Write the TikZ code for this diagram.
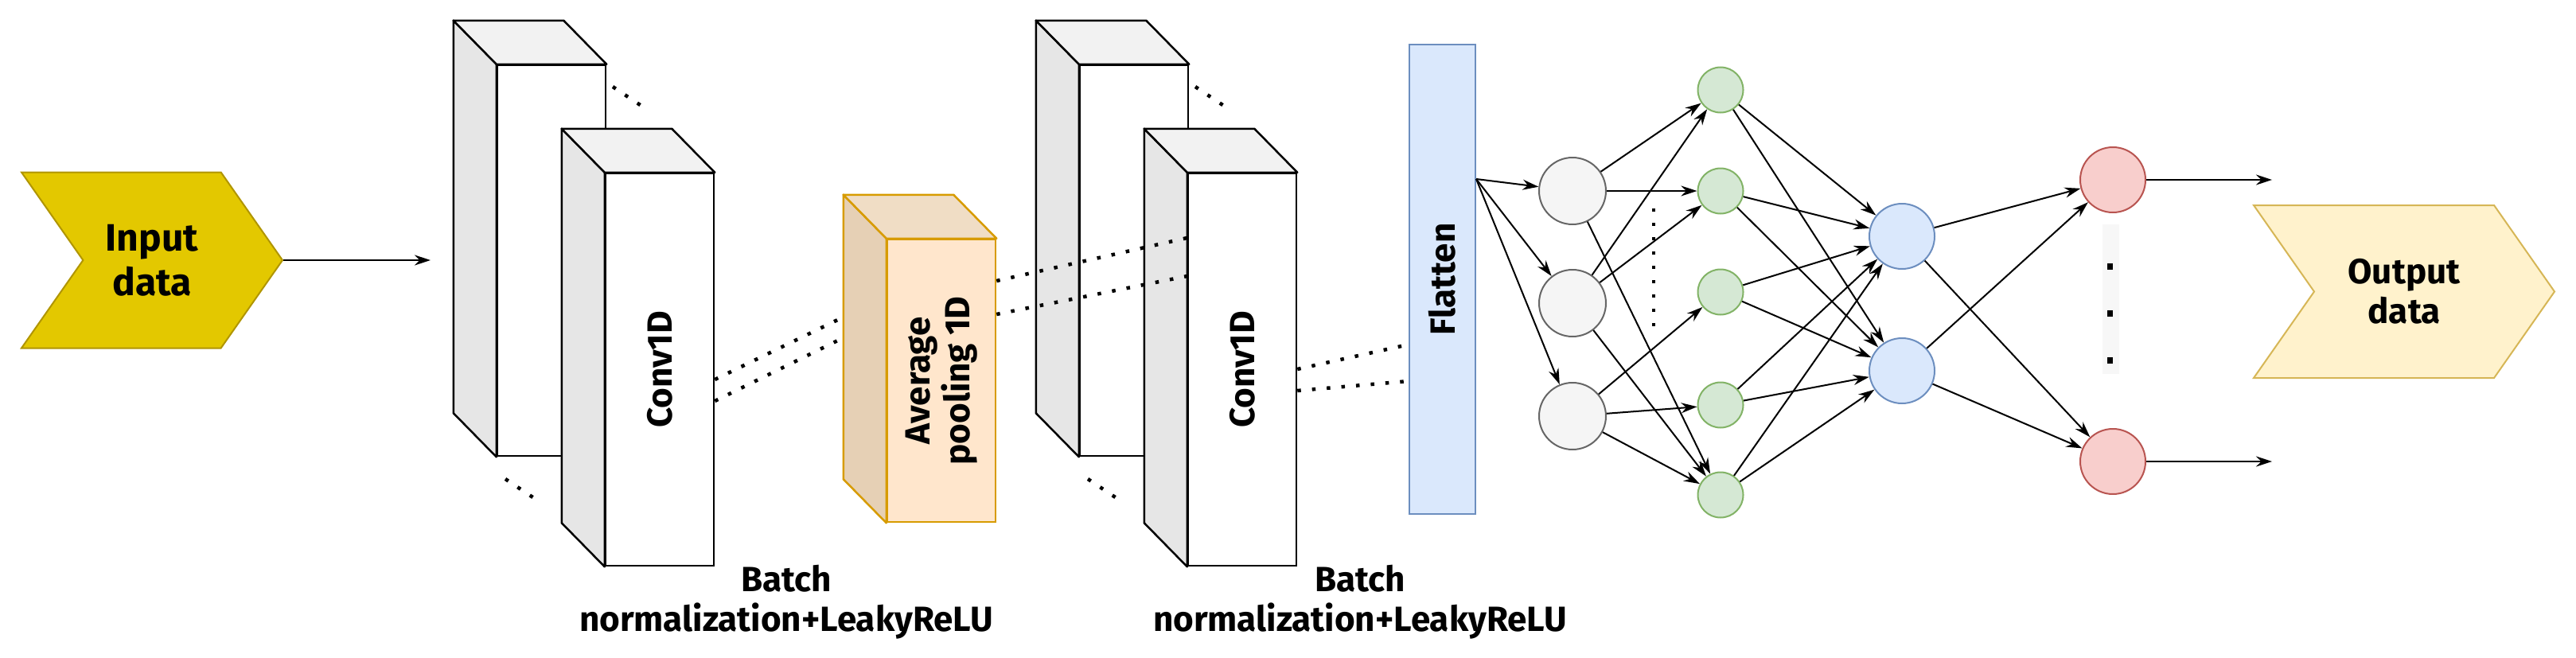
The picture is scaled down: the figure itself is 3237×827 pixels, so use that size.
\documentclass[tikz,border=0pt]{standalone}
\usepackage{fontspec}
\setmainfont{Fira Sans}
\usetikzlibrary{shapes.symbols,shapes.geometric,arrows.meta,calc}
\definecolor{inF}{HTML}{E3C800}\definecolor{inD}{HTML}{B09500}
\definecolor{outF}{HTML}{FFF2CC}\definecolor{outD}{HTML}{D6B656}
\definecolor{grF}{HTML}{F5F5F5}\definecolor{grD}{HTML}{666666}
\definecolor{gnF}{HTML}{D5E8D4}\definecolor{gnD}{HTML}{82B366}
\definecolor{blF}{HTML}{DAE8FC}\definecolor{blD}{HTML}{6C8EBF}
\definecolor{rdF}{HTML}{F8CECC}\definecolor{rdD}{HTML}{B85450}
\definecolor{avF}{HTML}{FFE6CC}\definecolor{avS}{HTML}{E6D0B5}\definecolor{avT}{HTML}{F0DDC5}\definecolor{avD}{HTML}{D79B00}
\definecolor{bkS}{HTML}{E6E6E6}\definecolor{bkT}{HTML}{F2F2F2}
\tikzset{
 face/.style={draw,line width=2.5pt,inner sep=0,rectangle},
 lbl/.style={font=\bfseries\fontsize{44}{50}\selectfont,align=center},
 neu/.style={circle,line width=2pt,inner sep=0},
 edge/.style={-{Stealth[length=20pt,width=13pt]},line width=2pt},
 dotl/.style={line width=4.5pt,dash pattern=on 4.5pt off 14pt},
 chev/.style={signal,signal to=east,signal from=west,signal pointer angle=110,line width=2pt,inner sep=0},
}
% \blk{name}{cx}{cy}{w}{h}{front}{side}{top}{stroke}
\newcommand\blk[9]{%
 \node[face,draw=#9,fill=#6,minimum width=#4,minimum height=#5] (#1) at (#2,#3) {};
 \draw[line width=2.5pt,draw=#9,fill=#7,line join=round] (#1.north west) -- ++(-54,-55) -- ($(#1.south west)+(-54,-55)$) -- (#1.south west) -- cycle;
 \draw[line width=2.5pt,draw=#9,fill=#8,line join=round] (#1.north west) -- ++(-54,-55) -- ($(#1.north east)+(-54,-55)$) -- (#1.north east) -- cycle;
}
\begin{document}
\begin{tikzpicture}[x=1pt,y=-1pt]
\useasboundingbox (0,0) rectangle (3237,827);
% input
\node[chev,fill=inF,draw=inD,minimum width=328,minimum height=221,lbl,font=\bfseries\fontsize{48}{56}\selectfont] (in) at (191,327) {Input\\data};
% conv blocks 1
\blk{c1a}{693}{327.5}{136}{491}{white}{bkS}{bkT}{black}
\blk{c1b}{829}{464.5}{136}{493}{white}{bkS}{bkT}{black}
\node[lbl,rotate=90] (t1) at (c1b.center) {Conv1D};
\draw[edge] (in.east) -- (541,327);
\draw[dotl] (770,109) -- (812,137);
\draw[dotl] (635,602) -- (677,630);
% avg
\blk{av}{1183}{478.5}{136}{355}{avF}{avS}{avT}{avD}
\node[lbl,rotate=90] at (av.center) {Average\\pooling 1D};
\coordinate (a1) at ($(av.west)+(-54,-80)$);
\coordinate (a2) at ($(av.west)+(-54,-54)$);
\draw[dotl] (c1b.east |- 0,477) -- (a1);
\draw[dotl] (c1b.east |- 0,504) -- (a2);
% conv blocks 2
\blk{c2a}{1425}{327.5}{136}{491}{white}{bkS}{bkT}{black}
\blk{c2b}{1561}{464.5}{136}{493}{white}{bkS}{bkT}{black}
\node[lbl,rotate=90] at (c2b.center) {Conv1D};
\draw[dotl] (1502,109) -- (1544,137);
\draw[dotl] (1367,602) -- (1409,630);
\draw[dotl] (av.east |- 0,353) -- (c2b.west |- 0,299);
\draw[dotl] (av.east |- 0,395) -- (c2b.west |- 0,347);
\node[lbl] at (988,757) {Batch\\normalization+LeakyReLU};
\node[lbl] at (1709,757) {Batch\\normalization+LeakyReLU};
% flatten
\node[face,line width=2pt,draw=blD,fill=blF,minimum width=83,minimum height=590] (fl) at (1812.5,351) {};
\node[lbl,rotate=90] at (fl.center) {Flatten};
\draw[dotl] (c2b.east |- 0,464) -- (fl.west |- 0,433);
\draw[dotl] (c2b.east |- 0,491) -- (fl.west |- 0,479);
\coordinate (fo) at (fl.east |- 0,225);
% neurons
\foreach \n/\y in {1/240,2/381,3/523}{\node[neu,fill=grF,draw=grD,minimum size=84] (g\n) at (1976,\y) {};}
\foreach \n/\y in {1/113,2/240,3/367,4/509,5/622}{\node[neu,fill=gnF,draw=gnD,minimum size=57] (h\n) at (2162,\y) {};}
\foreach \n/\y in {1/297,2/466}{\node[neu,fill=blF,draw=blD,minimum size=82] (b\n) at (2390,\y) {};}
\foreach \n/\y in {1/226,2/580}{\node[neu,fill=rdF,draw=rdD,minimum size=82] (r\n) at (2655,\y) {};}
\foreach \n in {1,2,3}{\draw[edge] (fo) -- (g\n);}
\foreach \a/\b in {g1/h1,g1/h2,g1/h5,g2/h1,g2/h2,g2/h5,g3/h3,g3/h4,g3/h5}{\draw[edge] (\a) -- (\b);}
\foreach \a in {1,...,5}{\foreach \b in {1,2}{\draw[edge] (h\a) -- (b\b);}}
\foreach \a in {1,2}{\foreach \b in {1,2}{\draw[edge] (b\a) -- (r\b);}}
\coordinate (o1) at (2855,226);
\coordinate (o2) at (2855,580);
\draw[edge] (r1) -- (o1);
\draw[edge] (r2) -- (o2);
\draw[line width=4pt,dash pattern=on 4pt off 14pt] (2078,262) -- (2078,422);
\fill[black!3] (2642,282) rectangle (2663,470);
\foreach \y in {335,394,453}{\fill (2648,\y-4) rectangle (2655,\y+4);}
% output
\node[chev,fill=outF,draw=outD,minimum width=378,minimum height=217,lbl] (out) at (3021,366.5) {Output\\data};
\end{tikzpicture}
\end{document}
